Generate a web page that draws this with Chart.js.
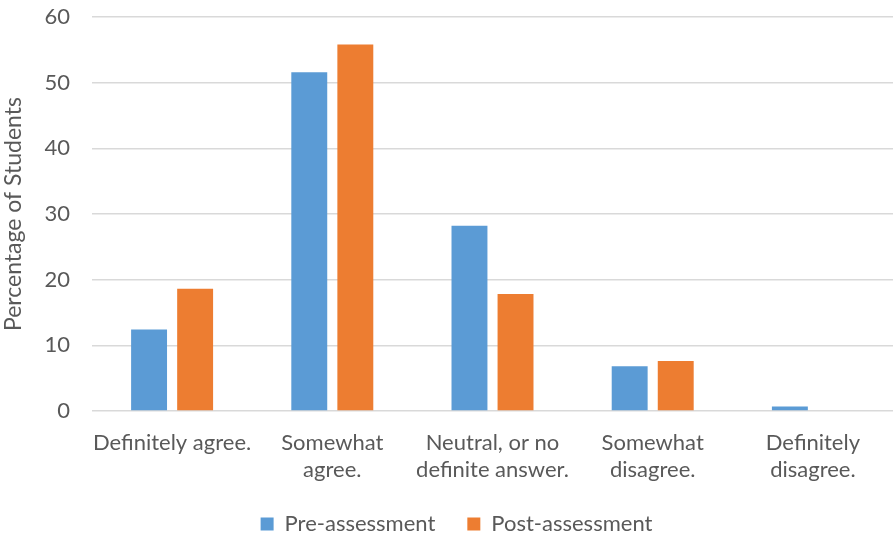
<!DOCTYPE html>
<html>
<head>
<meta charset="utf-8">
<script src="https://cdn.jsdelivr.net/npm/chart.js@4"></script>
<style>
  html, body { margin: 0; padding: 0; background: #fff; }
  #wrap { width: 893px; height: 538px; position: relative; }
</style>
</head>
<body>
<div id="wrap"><canvas id="chart"></canvas></div>
<script>
const categories = [
  'Definitely agree.',
  ['Somewhat', 'agree.'],
  ['Neutral, or no', 'definite answer.'],
  ['Somewhat', 'disagree.'],
  ['Definitely', 'disagree.'],
];
const preAssessment  = [12.4, 51.6, 28.2, 6.8, 0.7];
const postAssessment = [18.6, 55.8, 17.8, 7.6, 0];
const yTicks = [0, 10, 20, 30, 40, 50, 60];

const TEXT = '#595959';
const FONT = 'Lato, "Open Sans", sans-serif';

// nudge the legend a bit right, like the original
const legendShift = {
  id: 'legendShift',
  afterLayout(chart) {
    if (chart.legend) { chart.legend.left += 10; chart.legend.right += 10; }
  },
};

new Chart(document.getElementById('chart'), {
  type: 'bar',
  data: {
    labels: categories,
    datasets: [
      { label: 'Pre-assessment',  data: preAssessment,  backgroundColor: '#5B9BD5' },
      { label: 'Post-assessment', data: postAssessment, backgroundColor: '#ED7D31' },
    ],
  },
  plugins: [legendShift],
  options: {
    responsive: true,
    maintainAspectRatio: false,
    animation: false,
    categoryPercentage: 0.575,
    barPercentage: 0.78,
    layout: { padding: { top: 17, right: 0, left: 0, bottom: -7 } },
    plugins: {
      legend: {
        position: 'bottom',
        labels: {
          color: TEXT,
          font: { family: FONT, size: 22 },
          boxWidth: 13, boxHeight: 13,
          padding: 32,
        },
      },
      tooltip: { enabled: false },
    },
    scales: {
      x: {
        afterFit: s => { s.height = 70; },
        grid: { display: false },
        border: { display: false },
        ticks: { color: TEXT, font: { family: FONT, size: 22, lineHeight: 1.25 }, maxRotation: 0, autoSkip: false, padding: 10 },
      },
      y: {
        min: 0, max: 60,
        afterBuildTicks: s => { s.ticks = yTicks.map(v => ({ value: v })); },
        // fixed axis width; drop the tick-padding that Chart.js adds above the top tick
        afterFit: s => { s.width = 92; s.paddingTop = 0; s.paddingBottom = 0; },
        grid: { color: '#d9d9d9', lineWidth: 1.5, drawTicks: false },
        border: { display: false },
        ticks: { color: TEXT, font: { family: FONT, size: 22 }, padding: 22 },
        title: { display: true, text: 'Percentage of Students', color: TEXT, font: { family: FONT, size: 23 }, padding: 0 },
      },
    },
  },
});
</script>
</body>
</html>
